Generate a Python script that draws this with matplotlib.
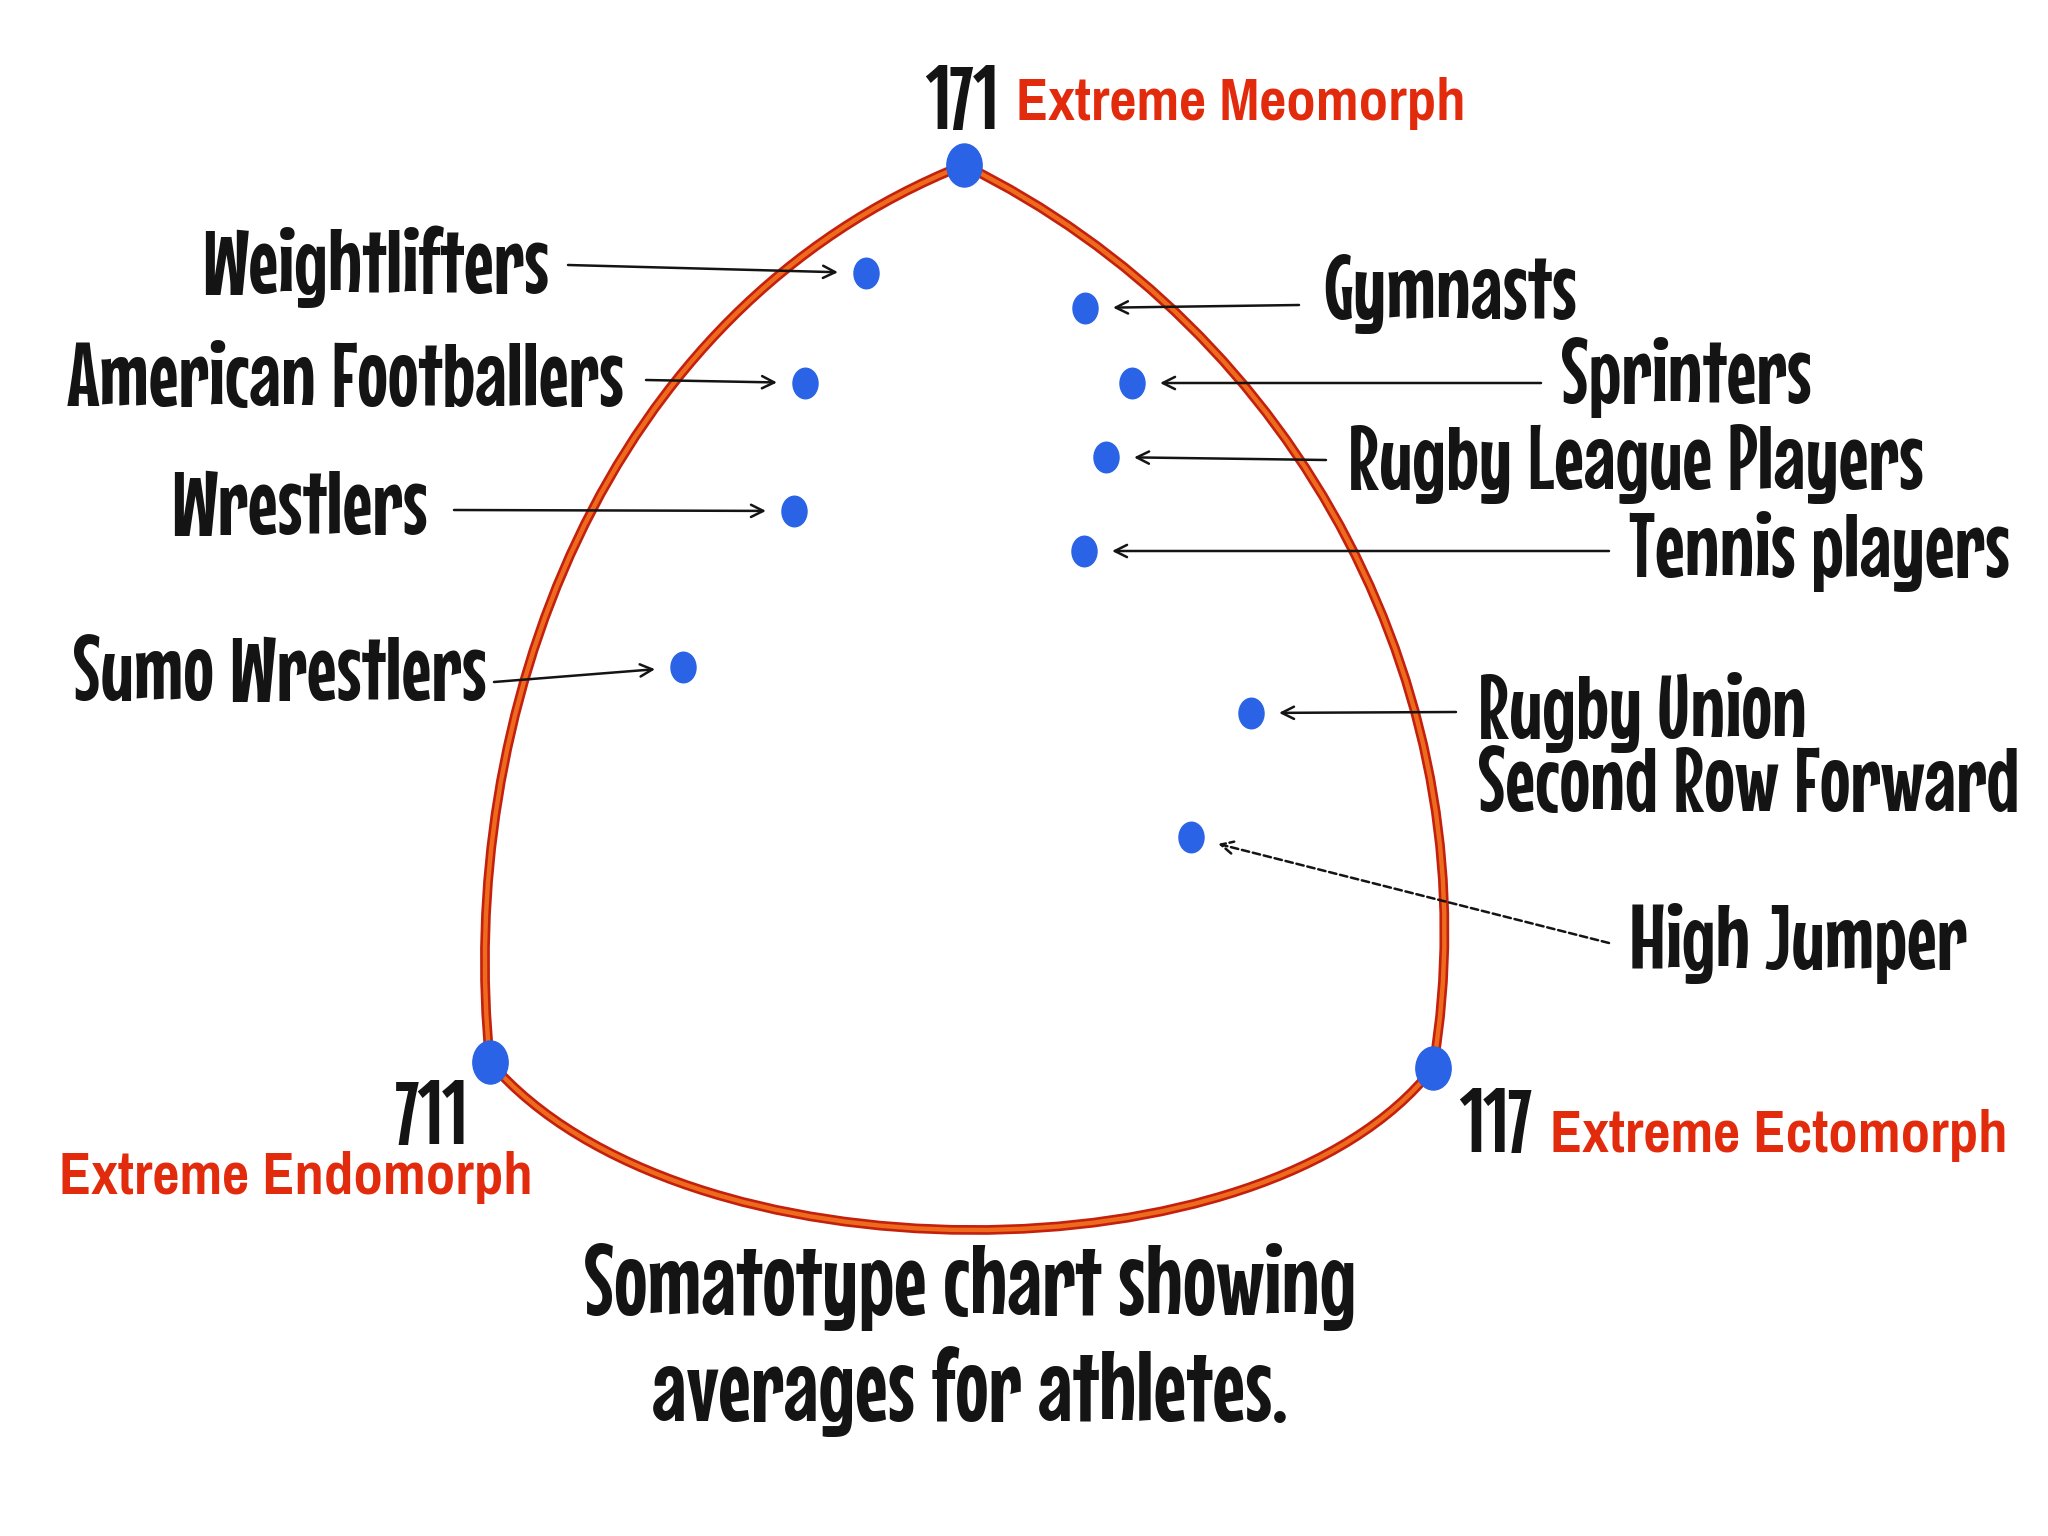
import matplotlib
matplotlib.use("Agg")
import numpy as np
import matplotlib.pyplot as plt
from matplotlib.path import Path
from matplotlib.patches import PathPatch
from matplotlib.transforms import Affine2D
from matplotlib import font_manager

# athlete averages, positions (image pixels, y pointing down)
left_names = ["Weightlifters", "American Footballers", "Wrestlers", "Sumo Wrestlers"]
left_x = [866, 805, 794, 683]
left_y = [273, 383, 511, 667]

right_names = ["Gymnasts", "Sprinters", "Rugby League Players", "Tennis players",
               "Rugby Union\nSecond Row Forward", "High Jumper"]
right_x = [1085, 1132, 1106, 1084, 1251, 1191]
right_y = [308, 383, 457, 551, 713, 837]

# the three extreme somatotypes (corners of the chart)
corner_codes = ["171", "711", "117"]
corner_names = ["Extreme Meomorph", "Extreme Endomorph", "Extreme Ectomorph"]
corner_x = [964, 490, 1433]
corner_y = [165, 1062, 1068]

caption = "Somatotype chart showing\naverages for athletes."


def pick_font(names):
    have = {f.name for f in font_manager.fontManager.ttflist}
    for n in names:
        if n in have:
            return n
    return "DejaVu Sans"


def main():
    hand = pick_font(["Mouse Memoirs", "Oswald", "DejaVu Sans"])
    sans = pick_font(["Pragati Narrow", "Roboto Condensed", "DejaVu Sans"])
    ink = "#141414"
    red = "#E12B0C"
    blue = "#2A63E6"

    fig = plt.figure(figsize=(20.48, 15.36), dpi=100, facecolor="white")
    ax = fig.add_axes([0, 0, 1, 1])
    ax.set_xlim(0, 2048)
    ax.set_ylim(1536, 0)
    ax.axis("off")

    # --- rounded triangle outline ---
    top = (corner_x[0], corner_y[0])
    bl = (corner_x[1], corner_y[1])
    br = (corner_x[2], corner_y[2])
    verts = [bl, (455, 720), (600, 310), top,
             (1300, 330), (1495, 700), br,
             (1265, 1285), (680, 1285), bl]
    codes = [Path.MOVETO] + [Path.CURVE4] * 9
    outline = Path(verts, codes)
    ax.add_patch(PathPatch(outline, fill=False, edgecolor="#C3200E", lw=7,
                           zorder=2))
    ax.add_patch(PathPatch(outline, fill=False, edgecolor="#EE6A1C", lw=3.2,
                           zorder=2))

    egg = Path.unit_circle().transformed(Affine2D().scale(0.82, 1.0))

    # --- labels and arrows ---
    left_lab_x = [549, 624, 428, 487]
    left_lab_y = [259, 375, 503, 669]
    left_tail = [(568, 265), (646, 380), (454, 510), (494, 682)]
    right_lab_x = [1323, 1561, 1348, 1629, 1478, 1629]
    right_lab_y = [294, 377, 464, 552, 749, 943]
    right_tail = [(1299, 305), (1541, 383), (1326, 460), (1609, 551),
                  (1456, 712), (1609, 943)]

    def arrow(tail, dot, gap=28, ls="-"):
        d = np.array(dot, float) - np.array(tail, float)
        head = np.array(dot, float) - gap * d / np.hypot(*d)
        ax.annotate("", xy=head, xytext=tail,
                    arrowprops=dict(arrowstyle="->", lw=1.8, color=ink,
                                    linestyle=ls, shrinkA=0, shrinkB=0,
                                    mutation_scale=22),
                    zorder=3)

    for name, x, y, lx, ly, t in zip(left_names, left_x, left_y,
                                     left_lab_x, left_lab_y, left_tail):
        ax.text(lx, ly, name, ha="right", va="center_baseline", fontsize=66,
                family=hand, color=ink)
        arrow(t, (x, y))

    for name, x, y, lx, ly, t in zip(right_names, right_x, right_y,
                                     right_lab_x, right_lab_y, right_tail):
        ax.text(lx, ly, name, ha="left", va="center", fontsize=66,
                family=hand, color=ink, linespacing=0.93)
        arrow(t, (x, y), ls=(0, (3, 1.5)) if name == "High Jumper" else "-")

    ax.plot(left_x + right_x, left_y + right_y, linestyle="none", marker=egg,
            markersize=22, color=blue, zorder=4)
    ax.plot(corner_x, corner_y, linestyle="none", marker=egg,
            markersize=31, color=blue, zorder=4)

    # --- corner annotations ---
    code_pos = [(961, 98, "center"), (431, 1113, "center"), (1459, 1121, "left")]
    name_pos = [(1016, 98, "left"), (59, 1172, "left"), (1550, 1131, "left")]
    for code, name, (cx, cy, cha), (nx, ny, nha) in zip(corner_codes, corner_names,
                                                        code_pos, name_pos):
        ax.text(cx, cy, code, ha=cha, va="center_baseline", fontsize=64,
                family=hand, color=ink)
        ax.text(nx, ny, name, ha=nha, va="center_baseline", fontsize=46,
                family=sans, weight="bold", color=red)

    ax.text(970, 1340, caption, ha="center", va="center", fontsize=72,
            family=hand, color=ink, linespacing=1.2)

    fig.savefig("out.png", dpi=100, facecolor="white")


if __name__ == "__main__":
    main()
